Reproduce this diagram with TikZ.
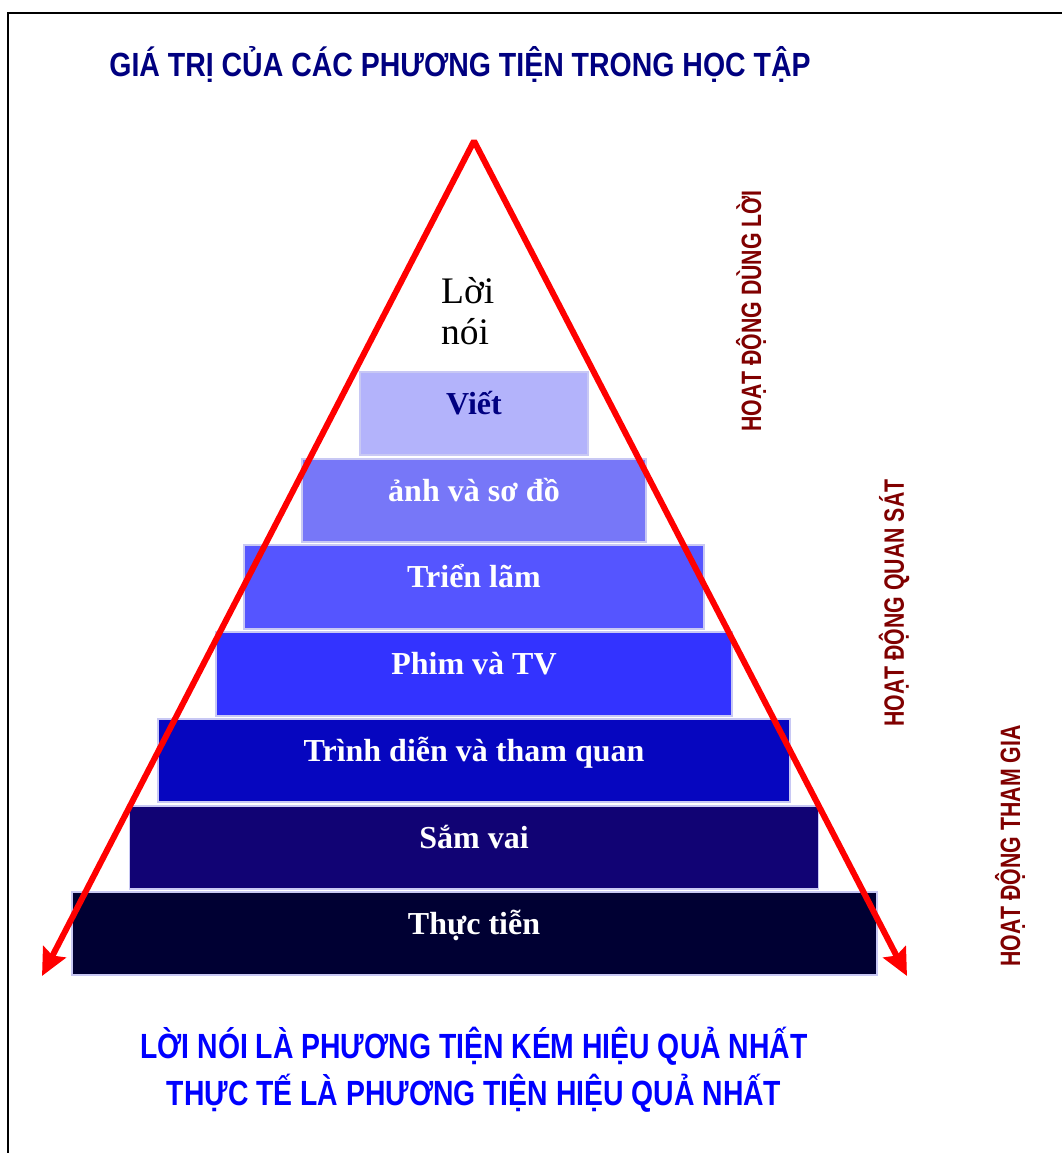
\documentclass[tikz,border=0pt]{standalone}
\usepackage{fontspec}
\setmainfont{Liberation Serif}
\newfontfamily\titlefont[FakeStretch=0.85]{Liberation Sans}
\newfontfamily\vertfont[FakeStretch=0.76]{Liberation Sans}
\newfontfamily\bottomfont[FakeStretch=0.81]{Liberation Sans}
\usetikzlibrary{arrows.meta}
\definecolor{navy}{HTML}{000080}
\definecolor{darkred}{HTML}{800000}
\definecolor{cViet}{HTML}{B3B3FB}
\definecolor{cAnh}{HTML}{7777F8}
\definecolor{cTrien}{HTML}{5555FF}
\definecolor{cPhim}{HTML}{3333FF}
\definecolor{cTrinh}{HTML}{0606BF}
\definecolor{cSam}{HTML}{110374}
\definecolor{cThuc}{HTML}{000033}
\definecolor{cEdge}{HTML}{C8C8F4}
\begin{document}
\begin{tikzpicture}[x=1pt,y=-1pt,
  level/.style={rectangle, draw=cEdge, line width=1.5pt, inner sep=0pt, outer sep=0pt},
  boxtxt/.style={anchor=base, inner sep=0pt, text=white, font=\fontsize{32}{36}\selectfont\bfseries},
  vertlbl/.style={rotate=90, inner sep=0pt, text=darkred, font=\vertfont\bfseries\fontsize{28}{32}\selectfont},
  bottomlbl/.style={anchor=base, inner sep=0pt, text=blue, font=\bottomfont\bfseries\fontsize{35}{40}\selectfont},
  redarrow/.style={draw=red, line width=6pt, line join=bevel,
    {Stealth[length=27pt,width=25pt,inset=4pt]}-{Stealth[length=27pt,width=25pt,inset=4pt]}}
]
\useasboundingbox (0,0) rectangle (1062,1153);
\fill[white] (0,0) rectangle (1062,1153);
\draw[line width=2pt, black] (8,1153) -- (8,13) -- (1062,13);

% title
\node[anchor=base, inner sep=0pt, text=navy, font=\titlefont\bfseries\fontsize{33.5}{38}\selectfont]
  (title) at (460,77) {GIÁ TRỊ CỦA CÁC PHƯƠNG TIỆN TRONG HỌC TẬP};

% pyramid levels
\node[level, fill=cViet,  minimum width=228pt, minimum height=83pt] (viet)  at (474,413.5) {};
\node[level, fill=cAnh,   minimum width=344pt, minimum height=83pt] (anh)   at (474,500.5) {};
\node[level, fill=cTrien, minimum width=460pt, minimum height=84pt] (trien) at (474,587) {};
\node[level, fill=cPhim,  minimum width=516pt, minimum height=84pt] (phim)  at (474,674) {};
\node[level, fill=cTrinh, minimum width=632pt, minimum height=83pt] (trinh) at (474,760.5) {};
\node[level, fill=cSam,   minimum width=689pt, minimum height=83pt] (sam)   at (474,847.5) {};
\node[level, fill=cThuc,  minimum width=805pt, minimum height=83pt] (thuc)  at (474.5,933.5) {};

\node[boxtxt, text=navy] (tviet)  at (474,414) {Viết};
\node[boxtxt] (tanh)   at (474,501) {ảnh và sơ đồ};
\node[boxtxt] (ttrien) at (474,587) {Triển lãm};
\node[boxtxt] (tphim)  at (474,674) {Phim và TV};
\node[boxtxt] (ttrinh) at (474,761) {Trình diễn và tham quan};
\node[boxtxt] (tsam)   at (474,848) {Sắm vai};
\node[boxtxt] (tthuc)  at (474,934) {Thực tiễn};

% top text
\node[anchor=base west, inner sep=0pt, font=\fontsize{37.5}{41}\selectfont] (loi1) at (441,303) {Lời};
\node[anchor=base west, inner sep=0pt, font=\fontsize{37.5}{41}\selectfont] (loi2) at (441,344) {nói};

% red triangle arrows
\coordinate (apex) at (474,141);
\coordinate (tipL) at (42,976);
\coordinate (tipR) at (907,976);
\draw[redarrow] (tipL) -- (apex) -- (tipR);

% vertical labels
\node[vertlbl] (v1) at (751,311) {HOẠT ĐỘNG DÙNG LỜI};
\node[vertlbl] (v2) at (894,603) {HOẠT ĐỘNG QUAN SÁT};
\node[vertlbl] (v3) at (1010,846) {HOẠT ĐỘNG THAM GIA};

% bottom text
\node[bottomlbl] (b1) at (474,1058) {LỜI NÓI LÀ PHƯƠNG TIỆN KÉM HIỆU QUẢ NHẤT};
\node[bottomlbl] (b2) at (474,1105) {THỰC TẾ LÀ PHƯƠNG TIỆN HIỆU QUẢ NHẤT};
\end{tikzpicture}
\end{document}
